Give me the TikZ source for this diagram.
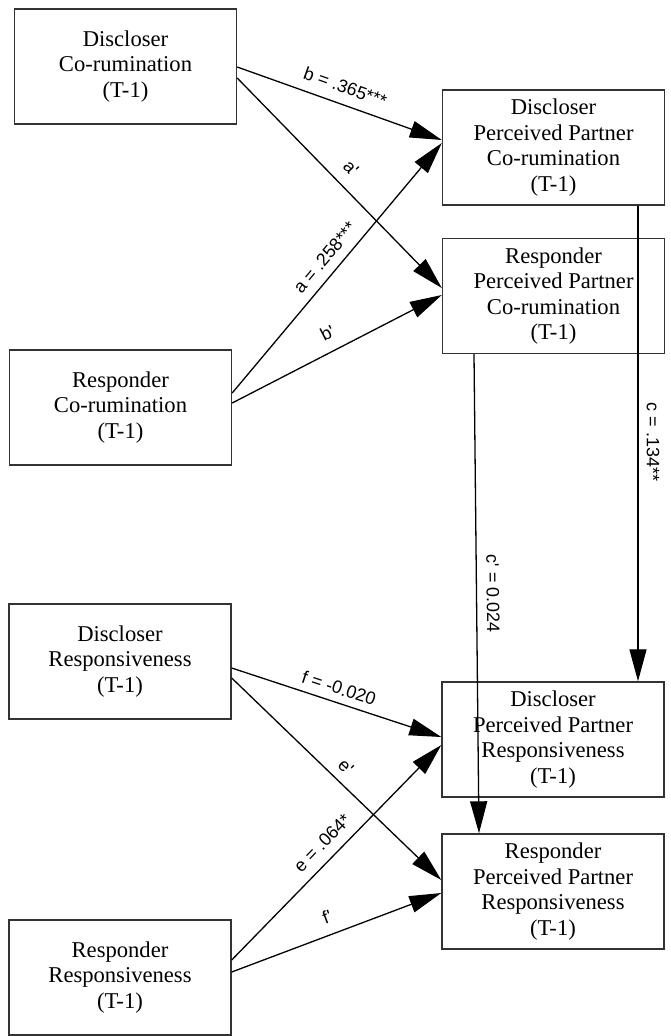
\documentclass[tikz,border=0pt]{standalone}
\usepackage{fontspec}
\setmainfont{Liberation Serif}
\newfontfamily\lblfont{Liberation Sans}
\usetikzlibrary{arrows.meta,calc}
\begin{document}
\begin{tikzpicture}[x=1pt,y=-1pt,
  box/.style={draw=black!80, line width=1.4pt, minimum width=222pt, minimum height=115pt,
    inner sep=0pt, align=center, font=\fontsize{22.6}{25.4}\selectfont},
  conn/.style={line width=1.3pt, -{Triangle[length=32pt,width=17pt]}},
  lbl/.style={sloped, anchor=center, inner sep=0pt, font=\lblfont\fontsize{18}{20}\selectfont}]
\useasboundingbox (0,0) rectangle (670,1036);
\node[box] (dcr) at (125.5,66.5) {Discloser\\Co-rumination\\(T-1)};
\node[box] (rcr) at (120.5,407.5) {Responder\\Co-rumination\\(T-1)};
\node[box] (dres) at (120,661.5) {Discloser\\Responsiveness\\(T-1)};
\node[box] (rres) at (120,977.5) {Responder\\Responsiveness\\(T-1)};
\node[box] (dppc) at (553.5,147.5) {Discloser\\Perceived Partner\\Co-rumination\\(T-1)};
\node[box] (rppc) at (553.5,296) {Responder\\Perceived Partner\\Co-rumination\\(T-1)};
\node[box] (dppr) at (553,739.5) {Discloser\\Perceived Partner\\Responsiveness\\(T-1)};
\node[box] (rppr) at (553,891.5) {Responder\\Perceived Partner\\Responsiveness\\(T-1)};
% co-rumination paths
\draw[conn] ($(dcr.east)+(0,0.5)$) -- node[lbl, pos=0.5, yshift=17.5pt] {b = .365***} ($(dppc.west)+(0,-7.5)$);
\draw[conn] ($(dcr.east)+(0,11.5)$) -- node[lbl, pos=0.49, yshift=19pt] {a'} ($(rppc.west)+(0,-8)$);
\draw[conn] ($(rcr.east)+(0,-14.5)$) -- node[lbl, pos=0.5, yshift=16pt] {a = .258***} ($(dppc.west)+(0,-4.5)$);
\draw[conn] ($(rcr.east)+(0,-4.5)$) -- node[lbl, pos=0.495, yshift=18.5pt] {b'} ($(rppc.west)+(0,-1)$);
\draw[conn] ($(dppc.south)+(84.5,0)$) -- node[lbl, pos=0.497, yshift=15pt] {c = .134**} ($(dppr.north)+(85,0)$);
\draw[conn] ($(rppc.south)+(-79.5,0)$) -- node[lbl, pos=0.5, yshift=16.5pt] {c' = 0.024} ($(rppr.north)+(-74,0)$);
% responsiveness paths
\draw[conn] ($(dres.east)+(0,6.5)$) -- node[lbl, pos=0.49, yshift=14.6pt] {f = -0.020} ($(dppr.west)+(0,-2.5)$);
\draw[conn] ($(dres.east)+(0,16.5)$) -- node[lbl, pos=0.495, yshift=15.3pt] {e'} ($(rppr.west)+(0,-11.5)$);
\draw[conn] ($(rres.east)+(0,-17.5)$) -- node[lbl, pos=0.49, yshift=16.9pt] {e = .064*} ($(dppr.west)+(0,5.5)$);
\draw[conn] ($(rres.east)+(0,-5.5)$) -- node[lbl, pos=0.485, yshift=17.8pt] {f'} ($(rppr.west)+(0,1.5)$);
\end{tikzpicture}
\end{document}
